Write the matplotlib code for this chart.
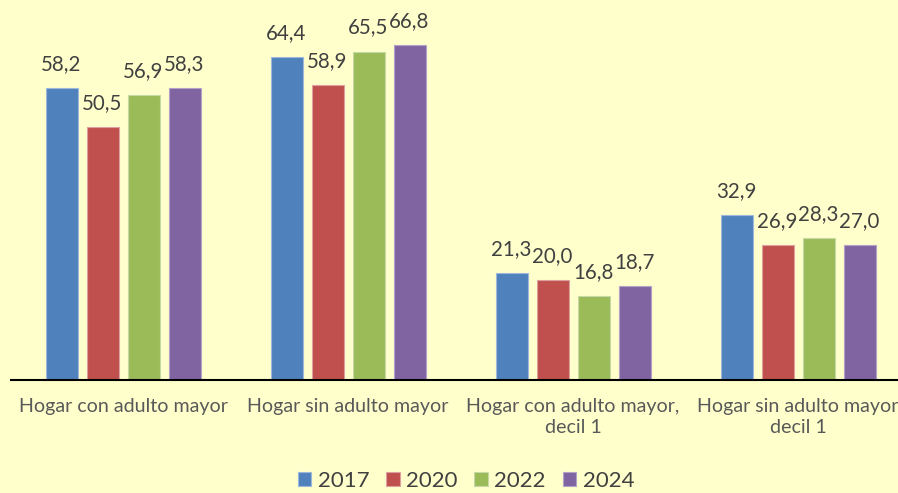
import matplotlib
matplotlib.use("Agg")
import matplotlib.pyplot as plt
import numpy as np

categories = ["Hogar con adulto mayor", "Hogar sin adulto mayor",
              "Hogar con adulto mayor,\ndecil 1", "Hogar sin adulto mayor\ndecil 1"]
years = ["2017", "2020", "2022", "2024"]
v2017 = [58.2, 64.4, 21.3, 32.9]
v2020 = [50.5, 58.9, 20.0, 26.9]
v2022 = [56.9, 65.5, 16.8, 28.3]
v2024 = [58.3, 66.8, 18.7, 27.0]
series = [v2017, v2020, v2022, v2024]
colors = ["#4F81BD", "#C0504D", "#9BBB59", "#8064A2"]
edges = ["#9DB8DA", "#DCA09E", "#C6D8A4", "#B3A2C7"]

bg = "#FFFFCC"
plt.rcParams['font.family'] = ['Lato', 'DejaVu Sans']

fig = plt.figure(figsize=(8.98, 4.93), dpi=100, facecolor=bg)
ax = fig.add_axes([10.5/898, 113/493, 900/898, 376/493], facecolor=bg)

x = np.arange(len(categories))
w = 32/225
step = 41/225
for i, (vals, c, ec, yr) in enumerate(zip(series, colors, edges, years)):
    pos = x + (i - 1.5) * step
    ax.bar(pos, vals, width=w, color=c, edgecolor=ec, linewidth=0.8, label=yr)
    for p, v in zip(pos, vals):
        ax.text(p, v + 2.8, f"{v:.1f}".replace(".", ","), ha="center", va="bottom",
                fontsize=14.8, color="#404040")

ax.set_xlim(-0.5, 3.5)
ax.set_ylim(0, 75)
ax.set_xticks(x)
ax.set_xticklabels(categories, fontsize=14.1, color="#595959", linespacing=1.3)
ax.tick_params(axis="x", length=0, pad=13)
ax.set_yticks([])
for s in ["top", "right", "left"]:
    ax.spines[s].set_visible(False)
ax.spines["bottom"].set_color("#000000")
ax.spines["bottom"].set_linewidth(1.5)

fig.legend(loc="center", bbox_to_anchor=(466/898, 1 - 481/493), ncol=4,
           frameon=False, fontsize=16, handlelength=0.6, handleheight=0.6,
           handletextpad=0.3, columnspacing=0.75, labelcolor="#404040",
           borderpad=0.1)
fig.savefig("out.png", dpi=100, facecolor=bg)
